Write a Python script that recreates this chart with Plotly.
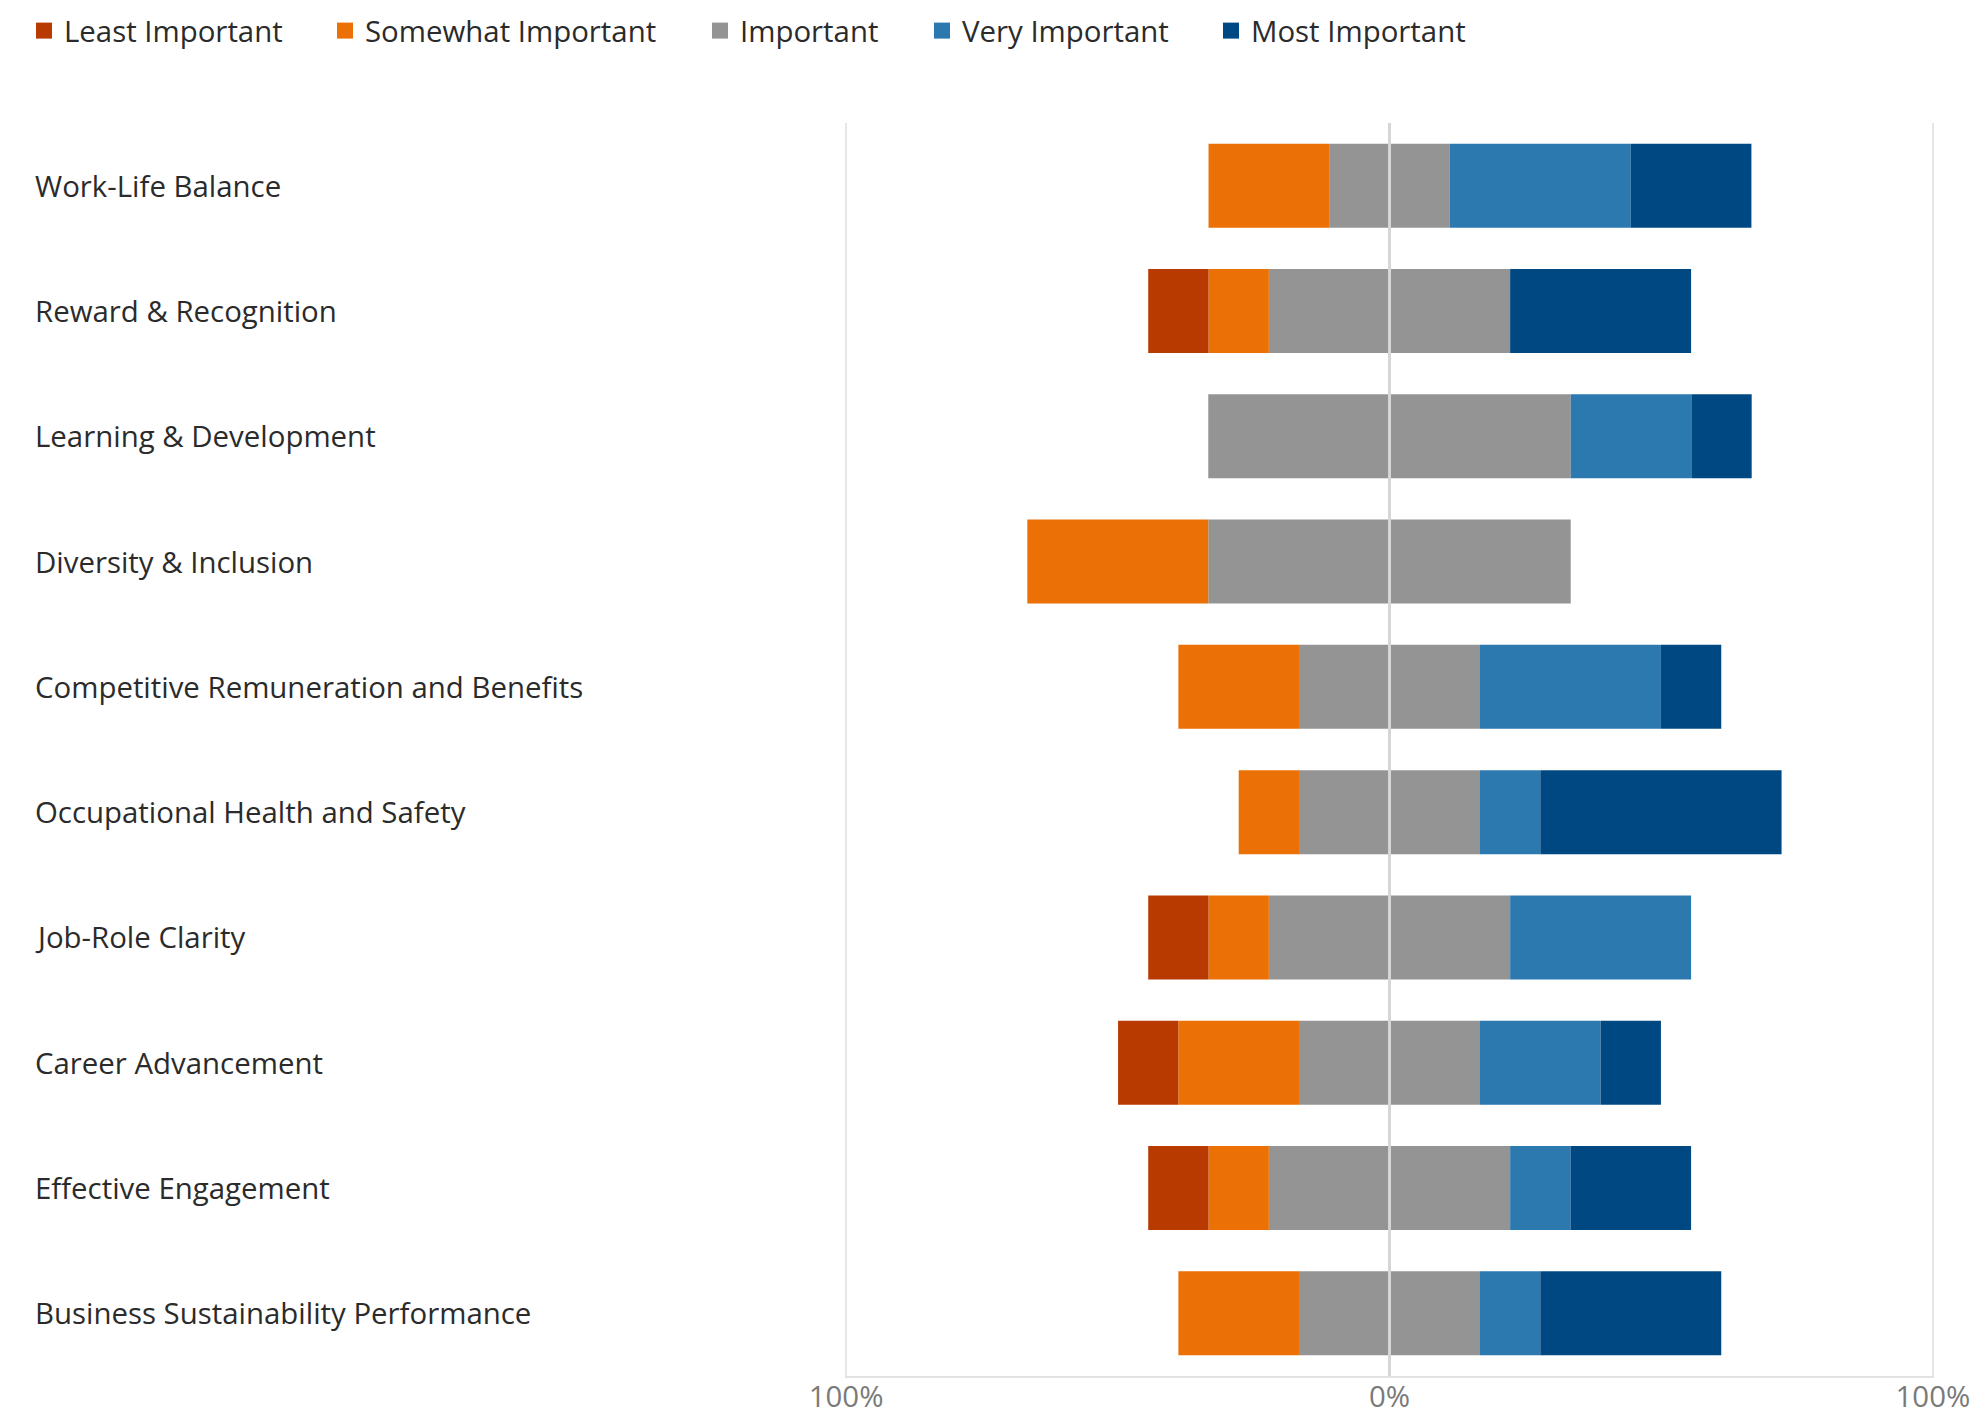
import plotly.graph_objects as go

categories = [
    "Work-Life Balance",
    "Reward & Recognition",
    "Learning & Development",
    "Diversity & Inclusion",
    "Competitive Remuneration and Benefits",
    "Occupational Health and Safety",
    "Job-Role Clarity",
    "Career Advancement",
    "Effective Engagement",
    "Business Sustainability Performance",
]
# percentages of respondents per importance level
least_important = [0.0, 11.1, 0.0, 0.0, 0.0, 0.0, 11.1, 11.1, 11.1, 0.0]
somewhat_important = [22.2, 11.1, 0.0, 33.3, 22.2, 11.1, 11.1, 22.2, 11.1, 22.2]
important = [22.2, 44.4, 66.7, 66.7, 33.3, 33.3, 44.4, 33.3, 44.4, 33.3]
very_important = [33.3, 0.0, 22.2, 0.0, 33.3, 11.1, 33.3, 22.2, 11.1, 11.1]
most_important = [22.2, 33.3, 11.1, 0.0, 11.1, 44.4, 0.0, 11.1, 22.2, 33.3]

series_names = ["Least Important", "Somewhat Important", "Important", "Very Important", "Most Important"]
series_colors = ["#B93A01", "#EB7005", "#949494", "#2C79B0", "#004881"]
tick_values = [-100, 0, 100]
tick_labels = ["100%", "0%", "100%"]

W, H = 1972, 1418
ML, MR, MT, MB = 845, 38, 123, 42
FONT = "Open Sans"
FS = 29.4
TEXT = "#2b2b2b"

fig = go.Figure()

def bar(x, color):
    fig.add_trace(go.Bar(
        y=categories, x=x, orientation="h",
        marker=dict(color=color, line=dict(width=0)),
        showlegend=False, hoverinfo="skip",
    ))

# stacking order: nearest zero first
bar([-v / 2 for v in important], series_colors[2])
bar([v / 2 for v in important], series_colors[2])
bar([-v for v in somewhat_important], series_colors[1])
bar(very_important, series_colors[3])
bar([-v for v in least_important], series_colors[0])
bar(most_important, series_colors[4])

# legend entries, one legend per item to reproduce spacing
legend_centers = [44, 345, 720, 942, 1231]
for i, (name, color) in enumerate(zip(series_names, series_colors)):
    lg = "legend" if i == 0 else f"legend{i+1}"
    fig.add_trace(go.Scatter(
        x=[None], y=[None], mode="markers", name=name,
        marker=dict(symbol="square", size=16, color=color),
        legend=lg, showlegend=True,
    ))

legend_layouts = {}
for i, c in enumerate(legend_centers):
    key = "legend" if i == 0 else f"legend{i+1}"
    legend_layouts[key] = dict(
        xref="container", yref="container",
        x=(c - 20) / W, y=1 - 31 / H,
        xanchor="left", yanchor="middle",
        orientation="h", bgcolor="rgba(0,0,0,0)",
        font=dict(family=FONT, size=FS, color=TEXT),
        itemclick=False, itemdoubleclick=False,
    )

plot_w = W - ML - MR
annotations = []
for cat in categories:
    annotations.append(dict(
        xref="paper", yref="y", x=(33 - ML) / plot_w, y=cat,
        text=cat, showarrow=False, xanchor="left", yanchor="middle",
        font=dict(family=FONT, size=FS, color=TEXT),
    ))

fig.update_layout(
    width=W, height=H,
    margin=dict(l=ML, r=MR, t=MT, b=MB, pad=0, autoexpand=False),
    barmode="relative", bargap=0.33,
    paper_bgcolor="white", plot_bgcolor="white",
    font=dict(family=FONT, size=FS, color=TEXT),
    annotations=annotations,
    shapes=[dict(type="line", xref="x", yref="paper", x0=0, x1=0, y0=0, y1=1,
                 line=dict(color="#d6d6d6", width=3), layer="above")],
    **legend_layouts,
)
fig.update_xaxes(
    range=[-100.2, 100.2], tickvals=tick_values, ticktext=tick_labels,
    showgrid=True, gridcolor="#e6e6e6", gridwidth=2, zeroline=False,
    showline=True, linecolor="#e2e2e2", linewidth=2, ticks="",
    tickfont=dict(family=FONT, size=FS, color="#7a7a7a"), fixedrange=True,
    automargin=False, ticklabelstandoff=-6,
)
fig.update_yaxes(
    autorange="reversed", showticklabels=False, showgrid=False, zeroline=False,
    showline=False, ticks="", fixedrange=True, automargin=False,
)

fig.write_html("out.html", config={"displayModeBar": False})
